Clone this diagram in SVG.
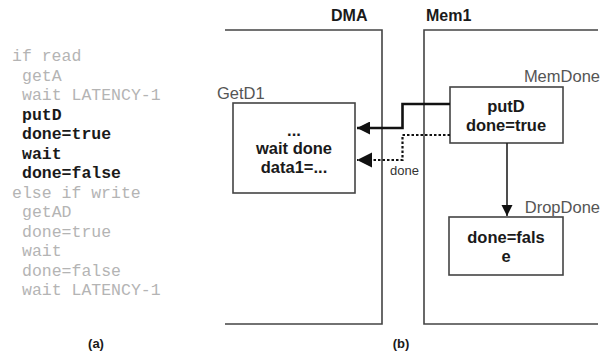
<svg xmlns="http://www.w3.org/2000/svg" width="602" height="358" viewBox="0 0 602 358">
<defs>
<style>
.code{font-family:"Liberation Mono","Courier New",monospace;font-size:16.5px}
.lt{fill:#b4b4b4}
.bd{fill:#1a1a1a;font-weight:bold}
.lbl{font-family:"Liberation Sans",Arial,sans-serif;font-size:16.5px;fill:#555}
.hd{font-family:"Liberation Sans",Arial,sans-serif;font-size:16px;font-weight:bold;fill:#1a1a1a}
.bx{fill:#fff;stroke:#444;stroke-width:1.6}
.bt{font-family:"Liberation Sans",Arial,sans-serif;font-size:16.5px;font-weight:bold;fill:#1a1a1a;text-anchor:middle}
.reg{fill:none;stroke:#444;stroke-width:1.6}
.cap{font-family:"Liberation Sans",Arial,sans-serif;font-size:13px;font-weight:bold;fill:#1a1a1a;text-anchor:middle}
</style>
<marker id="ah" viewBox="0 0 10 10" refX="10" refY="5" markerWidth="5" markerHeight="5" markerUnits="strokeWidth" orient="auto">
<path d="M0,0 L10,5 L0,10 z" fill="#111"/>
</marker>
<marker id="ah2" viewBox="0 0 10 10" refX="10" refY="5" markerWidth="7" markerHeight="7" markerUnits="strokeWidth" orient="auto">
<path d="M0,0 L10,5 L0,10 z" fill="#111"/>
</marker>
<marker id="ah3" viewBox="0 0 10 10" refX="10" refY="5" markerWidth="7" markerHeight="7" markerUnits="strokeWidth" orient="auto">
<path d="M0,0 L10,5 L0,10 z" fill="#111"/>
</marker>
</defs>
<rect width="602" height="358" fill="#fff"/>
<g id="code">
<text class="code lt" x="12" y="61">if read</text>
<text class="code lt" x="22" y="80.5">getA</text>
<text class="code lt" x="22" y="100">wait LATENCY-1</text>
<text class="code bd" x="22" y="119.5">putD</text>
<text class="code bd" x="22" y="139">done=true</text>
<text class="code bd" x="22" y="158.5">wait</text>
<text class="code bd" x="22" y="178">done=false</text>
<text class="code lt" x="12" y="197.5">else if write</text>
<text class="code lt" x="22" y="217">getAD</text>
<text class="code lt" x="22" y="236.5">done=true</text>
<text class="code lt" x="22" y="256">wait</text>
<text class="code lt" x="22" y="275.5">done=false</text>
<text class="code lt" x="22" y="295">wait LATENCY-1</text>
<text class="cap" x="96" y="348">(a)</text>
</g>
<g id="DMA">
<path class="reg" d="M225,30 H382 V324 H225"/>
<text class="hd" x="331" y="21">DMA</text>
</g>
<g id="Mem1">
<path class="reg" d="M598,30 H424 V324 H598"/>
<text class="hd" x="426" y="21">Mem1</text>
</g>
<g id="GetD1">
<text class="lbl" x="217" y="99">GetD1</text>
<rect class="bx" x="233" y="103" width="122" height="90"/>
<text class="bt" x="294" y="136">...</text>
<text class="bt" x="294" y="154">wait done</text>
<text class="bt" x="294" y="173">data1=...</text>
</g>
<g id="MemDone">
<text class="lbl" x="600" y="82" text-anchor="end">MemDone</text>
<rect class="bx" x="450" y="87" width="113" height="56"/>
<text class="bt" x="506" y="112">putD</text>
<text class="bt" x="506" y="131">done=true</text>
</g>
<g id="DropDone">
<text class="lbl" x="600" y="213" text-anchor="end">DropDone</text>
<rect class="bx" x="449" y="217" width="114" height="58"/>
<text class="bt" x="506" y="243">done=fals</text>
<text class="bt" x="506" y="262">e</text>
</g>
<g id="connectors">
<path d="M450,104 H402.5 V128 H357" fill="none" stroke="#111" stroke-width="2.6" marker-end="url(#ah)"/>
<path d="M450,135 H402.5 V160 H357" fill="none" stroke="#111" stroke-width="2.2" stroke-dasharray="2.5,2" marker-end="url(#ah2)"/>
<text x="390" y="175" font-family="Liberation Sans, Arial, sans-serif" font-size="13" fill="#333">done</text>
<path d="M507,143 V216" fill="none" stroke="#222" stroke-width="1.6" marker-end="url(#ah3)"/>
</g>
<text class="cap" x="401" y="348">(b)</text>
</svg>
